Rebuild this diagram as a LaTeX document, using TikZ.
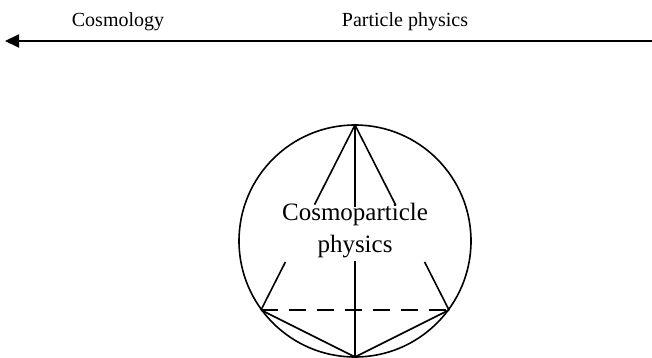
\documentclass[tikz,border=0pt]{standalone}
\usepackage{fontspec}
\setmainfont{Liberation Serif}
\usetikzlibrary{arrows.meta,calc}
\begin{document}
\begin{tikzpicture}[x=1pt,y=-1pt,
  thin line/.style={line width=1.6pt},
  toplabel/.style={font=\fontsize{20}{24}\selectfont, anchor=base, inner sep=0pt},
  midlabel/.style={font=\fontsize{25}{32}\selectfont, align=center, inner sep=0pt}]
\useasboundingbox (0,0) rectangle (652,358);
% top axis
\coordinate (axR) at (652,41);
\coordinate (axL) at (5,41);
\draw[line width=2pt, -{Triangle[length=14pt,width=13pt]}] (axR) -- (axL);
\node[toplabel] (cosmo) at (118,27) {Cosmology};
\node[toplabel] (part) at (405,27) {Particle physics};
% circle
\node[circle, draw, thin line, minimum size=232pt, inner sep=0pt] (circ) at (355,241) {};
\coordinate (T) at (355,125);
\coordinate (L) at (261,310);
\coordinate (R) at (449,310);
\coordinate (B) at (355,357);
\node[midlabel] (lbl) at (355,231) {Cosmoparticle\\physics};
% lines from top with gaps
\draw[thin line] (T) -- ($(T)!0.43!(L)$);
\draw[thin line] ($(T)!0.74!(L)$) -- (L);
\draw[thin line] (T) -- ($(T)!0.43!(R)$);
\draw[thin line] ($(T)!0.74!(R)$) -- (R);
\draw[thin line] (T) -- (355,207);
\draw[thin line] (355,261) -- (B);
\draw[thin line] (L) -- (B) -- (R);
\draw[thin line, dash pattern=on 17pt off 11pt] (L) -- (R);
\end{tikzpicture}
\end{document}
